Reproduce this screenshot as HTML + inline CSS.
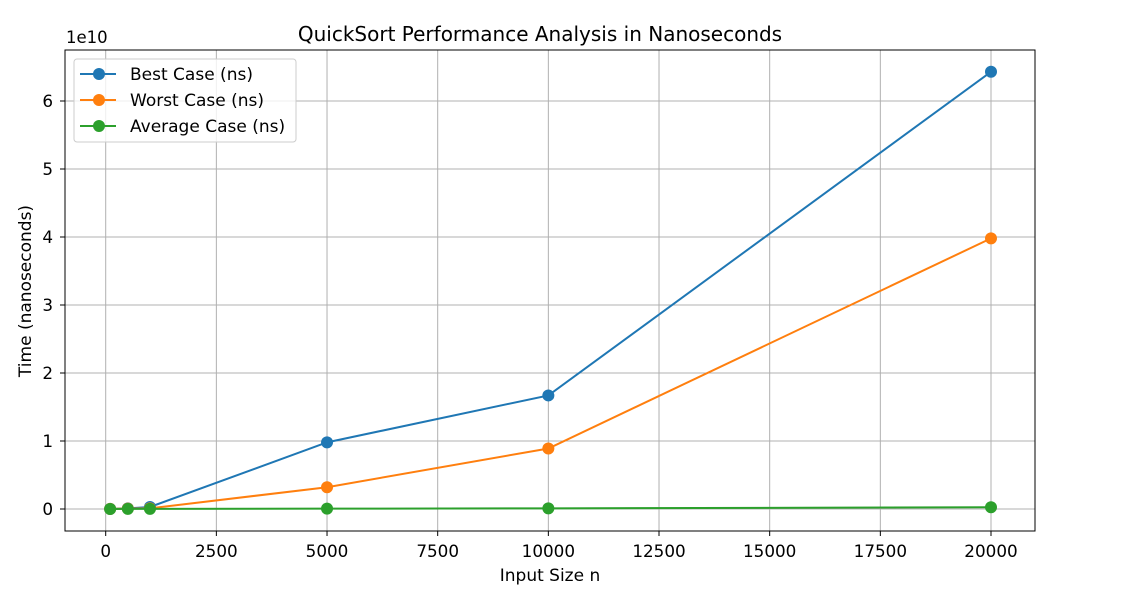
<!DOCTYPE html>
<html><head><meta charset="utf-8"><style>
body{margin:0;background:#fff;font-family:"DejaVu Sans",sans-serif}
svg text{font-family:"DejaVu Sans",sans-serif;fill:#000}
</style></head><body>
<svg width="1128" height="598">
<g id="grid"></g><g id="axes"></g><g id="series"></g>
<text x="540" y="41" font-size="20" text-anchor="middle" fill="#222">QuickSort Performance Analysis in Nanoseconds</text>
<text x="550" y="581" font-size="17" text-anchor="middle" fill="#222">Input Size n</text>
<text transform="translate(31,291) rotate(-90)" font-size="17" text-anchor="middle" fill="#222">Time (nanoseconds)</text>
<text x="66" y="43" font-size="16.5">1e10</text>
<g>
<rect x="74" y="59" width="222" height="83" rx="3" fill="#fff" fill-opacity="0.8" stroke="#ccc"/>
<g id="legend"></g></g>
</svg>
<script>
const sizes=[100,500,1000,5000,10000,20000];
const bestCase=[0.002,0.01,0.03,0.98,1.67,6.43];
const worstCase=[0.001,0.005,0.01,0.32,0.89,3.98];
const avgCase=[0.0005,0.001,0.002,0.005,0.01,0.025];
const xTicks=[0,2500,5000,7500,10000,12500,15000,17500,20000];
const yTicks=[0,1,2,3,4,5,6];
const seriesNames=["Best Case (ns)","Worst Case (ns)","Average Case (ns)"];
const colors=["#1f77b4","#ff7f0e","#2ca02c"];
const NS="http://www.w3.org/2000/svg";
const L=65,R=1035,T=50,B=531;
const X=v=>105.7+(v/20000)*(991-105.7);
const Y=v=>509-v*68;
function mk(p,tag,a){const e=document.createElementNS(NS,tag);for(const k in a)e.setAttribute(k,a[k]);document.getElementById(p).appendChild(e);return e;}
xTicks.forEach(t=>{
 const g=mk('grid','line',{x1:X(t),x2:X(t),y1:T,y2:B,stroke:'#b0b0b0','stroke-width':1});
 
 
 mk('axes','line',{x1:X(t),x2:X(t),y1:B,y2:B+5,stroke:'#000'});
 const tx=mk('axes','text',{x:X(t),y:B+26,'font-size':16.8,'text-anchor':'middle',fill:'#222'});tx.textContent=t;
 
 
});
yTicks.forEach(t=>{
 const g=mk('grid','line',{x1:L,x2:R,y1:Y(t),y2:Y(t),stroke:'#b0b0b0','stroke-width':1});
 
 
 mk('axes','line',{x1:L-5,x2:L,y1:Y(t),y2:Y(t),stroke:'#000'});
 const tx=mk('axes','text',{x:L-12,y:Y(t)+6,'font-size':16.8,'text-anchor':'end',fill:'#222'});tx.textContent=t;
 
 
});
const fr=mk('axes','rect',{x:L,y:T,width:R-L,height:B-T,fill:'none',stroke:'#000','stroke-width':1});


[bestCase,worstCase,avgCase].forEach((d,i)=>{
 const pl=mk('series','polyline',{points:d.map((v,j)=>X(sizes[j])+','+Y(v)).join(' '),fill:'none',stroke:colors[i],'stroke-width':2});
 
 
 d.forEach((v,j)=>{const c=mk('series','circle',{cx:X(sizes[j]),cy:Y(v),r:6,fill:colors[i]});
  
  });
 const ly=74+i*26;
 const ll=mk('legend','line',{x1:80,x2:116,y1:ly,y2:ly,stroke:colors[i],'stroke-width':2});
 
 
 mk('legend','circle',{cx:99,cy:ly,r:6,fill:colors[i]});
 const lt=mk('legend','text',{x:130,y:ly+6,'font-size':17,fill:'#222'});lt.textContent=seriesNames[i];
 
 
});
</script>
</body></html>
